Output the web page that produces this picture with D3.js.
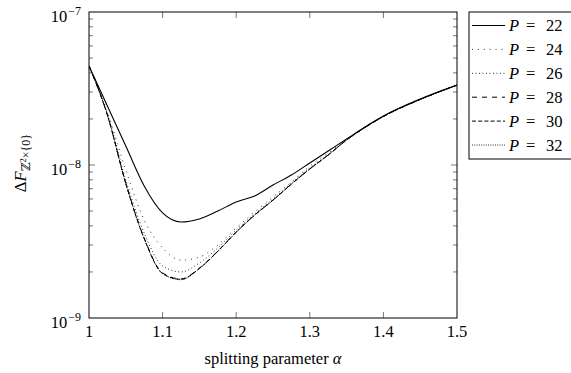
<!DOCTYPE html>
<html>
<head>
<meta charset="utf-8">
<script src="https://cdn.jsdelivr.net/npm/d3@7"></script>
<style>
  body { margin: 0; background: #fff; }
  svg text { font-family: "Liberation Serif", "DejaVu Serif", serif; fill: #000; }
</style>
</head>
<body>
<div id="chart"></div>
<script>
// splitting parameter alpha
var alphas = [1, 1.025, 1.05, 1.075, 1.1, 1.125, 1.15, 1.175, 1.2, 1.225, 1.25,
              1.275, 1.3, 1.325, 1.35, 1.375, 1.4, 1.45, 1.5];

var p22 = [4.44e-8, 2.43e-8, 1.33e-8, 7.29e-9, 4.86e-9, 4.24e-9, 4.44e-9, 5.00e-9, 5.73e-9, 6.27e-9,
           7.40e-9, 8.60e-9, 1.031e-8, 1.235e-8, 1.479e-8, 1.772e-8, 2.09e-8, 2.70e-8, 3.33e-8];
var p24 = [4.44e-8, 2.22e-8, 9.27e-9, 4.37e-9, 2.87e-9, 2.39e-9, 2.50e-9, 3.00e-9, 3.88e-9, 4.93e-9,
           6.18e-9, 7.74e-9, 9.85e-9, 1.197e-8, 1.468e-8, 1.772e-8, 2.075e-8, 2.68e-8, 3.33e-8];
var p26 = [4.44e-8, 2.15e-8, 7.98e-9, 3.59e-9, 2.19e-9, 2.00e-9, 2.29e-9, 2.87e-9, 3.76e-9, 4.78e-9,
           5.99e-9, 7.62e-9, 9.56e-9, 1.171e-8, 1.457e-8, 1.758e-8, 2.075e-8, 2.68e-8, 3.33e-8];
var p28 = [4.44e-8, 2.12e-8, 7.62e-9, 3.33e-9, 1.97e-9, 1.80e-9, 2.12e-9, 2.74e-9, 3.65e-9, 4.71e-9,
           5.90e-9, 7.51e-9, 9.42e-9, 1.162e-8, 1.457e-8, 1.758e-8, 2.075e-8, 2.68e-8, 3.33e-8];
var p30 = [4.44e-8, 2.12e-8, 7.55e-9, 3.30e-9, 1.95e-9, 1.79e-9, 2.11e-9, 2.73e-9, 3.64e-9, 4.70e-9,
           5.89e-9, 7.50e-9, 9.42e-9, 1.162e-8, 1.457e-8, 1.758e-8, 2.075e-8, 2.68e-8, 3.33e-8];
var p32 = [4.44e-8, 2.12e-8, 7.55e-9, 3.30e-9, 1.95e-9, 1.78e-9, 2.10e-9, 2.72e-9, 3.63e-9, 4.70e-9,
           5.89e-9, 7.50e-9, 9.42e-9, 1.162e-8, 1.457e-8, 1.758e-8, 2.075e-8, 2.68e-8, 3.33e-8];

var seriesNames = ["22", "24", "26", "28", "30", "32"];
var xTicks = [1, 1.1, 1.2, 1.3, 1.4, 1.5];
var yExps = [-9, -8, -7];

var margin = { top: 12, right: 114, bottom: 55, left: 89 },
    width = 571 - margin.left - margin.right,
    height = 373 - margin.top - margin.bottom;

var x = d3.scaleLinear().domain([1, 1.5]).range([0, width]);
var y = d3.scaleLog().domain([1e-9, 1e-7]).range([height, 0]);

var svg = d3.select("#chart").append("svg")
    .attr("width", 571)
    .attr("height", 373);
var g = svg.append("g")
    .attr("transform", "translate(" + margin.left + "," + margin.top + ")");

// line styles for each P
var styles = [
  { dash: null, w: 1.1 },
  { dash: "0.9 5", w: 0.9 },
  { dash: "0.9 2.6", w: 0.9 },
  { dash: "5 5", w: 1 },
  { dash: "4 2.2", w: 1 },
  { dash: "0.9 1.4", w: 0.9 }
];
var allSeries = [p22, p24, p26, p28, p30, p32];

var line = d3.line()
    .x(function(d, i) { return x(alphas[i]); })
    .y(function(d) { return y(d); })
    .curve(d3.curveMonotoneX);

g.append("defs").append("clipPath").attr("id", "clip")
  .append("rect").attr("width", width).attr("height", height);

var lines = g.append("g").attr("clip-path", "url(#clip)");
allSeries.forEach(function(s, i) {
  lines.append("path")
      .datum(s)
      .attr("fill", "none")
      .attr("stroke", "#000")
      .attr("stroke-width", styles[i].w)
      .attr("stroke-dasharray", styles[i].dash)
      .attr("d", line);
});

// ticks (inward, pgfplots-like)
var tickColor = "#555";
var xMajor = xTicks.slice(1, -1);
xMajor.forEach(function(t) {
  g.append("line").attr("x1", x(t)).attr("x2", x(t))
      .attr("y1", height).attr("y2", height - 6)
      .attr("stroke", tickColor).attr("stroke-width", 0.8);
  g.append("line").attr("x1", x(t)).attr("x2", x(t))
      .attr("y1", 0).attr("y2", 6)
      .attr("stroke", tickColor).attr("stroke-width", 0.8);
});

var minors = [];
[-9, -8].forEach(function(e) {
  for (var k = 2; k <= 9; k++) minors.push(k * Math.pow(10, e));
});
minors.forEach(function(v) {
  [[0, 4], [width, width - 4]].forEach(function(p) {
    g.append("line").attr("x1", p[0]).attr("x2", p[1])
        .attr("y1", y(v)).attr("y2", y(v))
        .attr("stroke", tickColor).attr("stroke-width", 0.8);
  });
});
[1e-8].forEach(function(v) {
  [[0, 6], [width, width - 6]].forEach(function(p) {
    g.append("line").attr("x1", p[0]).attr("x2", p[1])
        .attr("y1", y(v)).attr("y2", y(v))
        .attr("stroke", tickColor).attr("stroke-width", 0.8);
  });
});

// frame
g.append("rect")
    .attr("width", width).attr("height", height)
    .attr("fill", "none").attr("stroke", "#000").attr("stroke-width", 1);

// x tick labels
g.selectAll("text.xt")
    .data(xTicks)
  .enter().append("text")
    .attr("class", "xt")
    .attr("x", function(d) { return x(d); })
    .attr("y", height + 19)
    .attr("text-anchor", "middle")
    .style("font-size", "16.5px")
    .text(function(d) { return d3.format("")(d); });

// y tick labels: 10^e
yExps.forEach(function(e) {
  var t = g.append("text")
      .attr("x", -8)
      .attr("y", y(Math.pow(10, e)) + 10)
      .attr("text-anchor", "end")
      .style("font-size", "16.5px");
  t.append("tspan").text("10");
  t.append("tspan").attr("dy", -7).attr("dx", 1).style("font-size", "12px").text("\u2212" + (-e));
});

// axis labels
var xl = svg.append("text")
    .attr("x", margin.left + width / 2)
    .attr("y", 364)
    .attr("text-anchor", "middle")
    .style("font-size", "16.5px");
xl.append("tspan").text("splitting parameter ");
xl.append("tspan").style("font-style", "italic").text("\u03b1");

var yl = svg.append("text")
    .attr("transform", "translate(26,163) rotate(-90)")
    .attr("text-anchor", "middle")
    .style("font-size", "16.5px");
yl.append("tspan").text("\u0394");
yl.append("tspan").style("font-style", "italic").text("F");
yl.append("tspan").attr("dy", 4).style("font-size", "12px").text("\u2124");
yl.append("tspan").attr("dy", -4).style("font-size", "9px").text("2");
yl.append("tspan").attr("dy", 4).style("font-size", "12px").text("\u00d7{0}");

// legend
var lg = svg.append("g").attr("transform", "translate(469,12)");
lg.append("rect")
    .attr("width", 110).attr("height", 147)
    .attr("fill", "#fff").attr("stroke", "#000").attr("stroke-width", 1);
seriesNames.forEach(function(n, i) {
  var cy = 13.5 + i * 23.9;
  lg.append("line")
      .attr("x1", 3).attr("x2", 36)
      .attr("y1", cy).attr("y2", cy)
      .attr("stroke", "#000")
      .attr("stroke-width", styles[i].w)
      .attr("stroke-dasharray", styles[i].dash);
  var t = lg.append("text")
      .attr("y", cy + 5.5)
      .style("font-size", "16.5px");
  t.append("tspan").attr("x", 40).style("font-style", "italic").text("P");
  t.append("tspan").attr("x", 57).text("=");
  t.append("tspan").attr("x", 77).text(n);
});
</script>
</body>
</html>
